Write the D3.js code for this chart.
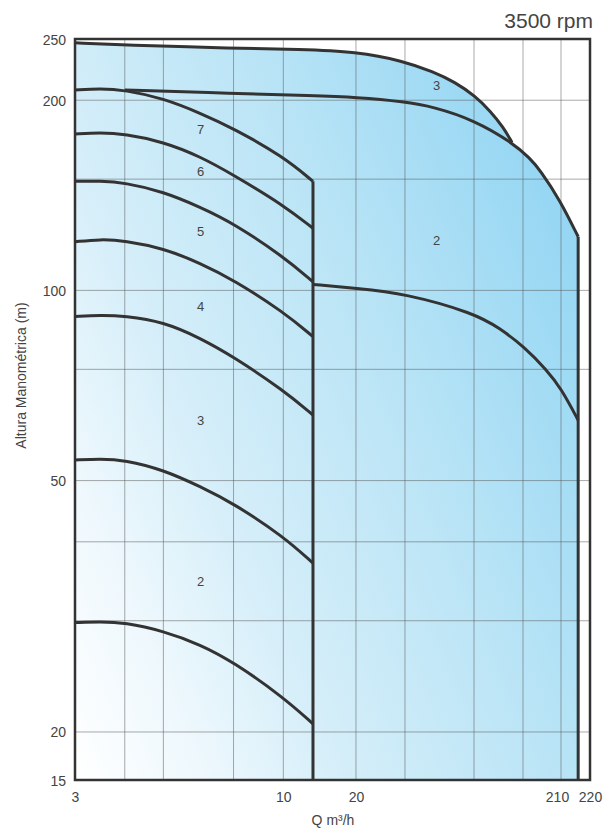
<!DOCTYPE html>
<html><head><meta charset="utf-8">
<script src="https://cdn.jsdelivr.net/npm/d3@7"></script>
<style>
body{margin:0;background:#fff}
text{font-family:"Liberation Sans",Arial,sans-serif;fill:#444}
</style>
</head><body><svg id="c" width="605" height="830"></svg>
<script>
// ---- data ----
const xGrid = [3, 4, 5, 7.5, 10, 15, 20, 30, 40, 50, 60];
const yGrid = [15, 20, 30, 40, 50, 75, 100, 150, 200, 250];
const xTickValues = [3, 10, 15, 50, 60];
const xTickLabels = ["3", "10", "20", "210", "220"];
const yTickValues = [15, 20, 50, 100, 200, 250];
const yTickLabels = ["15", "20", "50", "100", "200", "250"];

// small pump (stages 1..7)
const smallQ = [3, 3.47, 4, 5, 6.2, 7.5, 10, 11.8];
const small1 = [29.8, 29.9, 29.8, 28.9, 27.5, 25.8, 22.7, 20.6];
const small2 = [53.9, 54.1, 53.9, 52.0, 48.9, 46.0, 40.8, 37.0];
const small3 = [90.9, 91.4, 91.1, 89.2, 84.0, 78.5, 69.5, 63.5];
const small4 = [119.4, 120.5, 119.9, 116.6, 110.4, 103.9, 92.5, 84.5];
const small5 = [148.8, 149.0, 148.1, 143.3, 135.4, 127.7, 113.1, 103.2];
const small6 = [176.8, 177.7, 176.8, 171.9, 162.8, 152.3, 136.5, 125.4];
const small7 = [207.6, 208.8, 207.6, 201.4, 190.7, 180.5, 162.8, 148.8];
const smallLabels = ["2", "3", "4", "5", "6", "7"];
const smallLabelQ = 6.2;
const smallLabelH = [34.6, 62.2, 94.2, 123.9, 154.1, 179.8];
const smallMaxQ = 11.8;

// large pump (stages 1..3)
const big1Q = [11.8, 15, 20, 30.1, 34.9, 40.2, 46, 50, 55.7];
const big1H = [102.2, 100.8, 98.9, 92.0, 87.1, 81.5, 74.8, 70.0, 62.3];
const big2Q = [4, 7.5, 11.8, 15, 20, 23.6, 30, 37.5, 41.7, 44.2, 49.7, 55.7];
const big2H = [207.6, 205.0, 203.3, 202.1, 198.9, 195.3, 186.1, 171.5, 161.8, 155.1, 139.0, 121.6];
const big3Q = [3, 4, 7.5, 11, 15, 19.8, 23.6, 26.8, 30.2, 33.0, 35.6, 37.5];
const big3H = [246.6, 244.6, 241.7, 240.8, 238.7, 230.8, 221.8, 213.7, 203.1, 192.3, 181.4, 171.5];
const bigLabels = ["2", "3"];
const bigLabelQ = 24.1;
const bigLabelH = [119.9, 211.4];
const bigMaxQ = 55.7;

const title = "3500 rpm";
const xTitle = "Q m³/h";
const yTitle = "Altura Manométrica (m)";

// ---- layout ----
const svg = d3.select("#c");
const L = 75, R = 590, T = 39, B = 780;
const W = R - L, H = B - T;
const xBreaks = [0, 0.4045, 0.5456, 0.9437, 1];
const yBreaks = [0, 0.0648, 1];

const x = d3.scaleLog().domain(xTickValues).range(xBreaks.map(f => L + f * W));
const y = d3.scaleLog().domain([15, 20, 250]).range(yBreaks.map(f => B - f * H));

const zip = (qs, hs) => qs.map((q, i) => ({q, h: hs[i]}));
const curveType = d3.curveBasis;

// gradient
const defs = svg.append("defs");
const g0 = defs.append("linearGradient").attr("id", "fillG")
  .attr("gradientUnits", "userSpaceOnUse")
  .attr("x1", L).attr("y1", B).attr("x2", L + W * 1.345).attr("y2", B - H * 0.395);
[[0, "#ffffff"], [0.16, "#eef8fd"], [0.33, "#d5eef9"], [0.6, "#b9e4f6"], [0.9, "#95d6f3"], [1, "#8cd2f2"]]
  .forEach(([o, c]) => g0.append("stop").attr("offset", o).attr("stop-color", c));

const area = d3.area().x(d => x(d.q)).y0(y(15)).y1(d => y(d.h)).curve(curveType);
svg.append("path").datum(zip(big3Q, big3H)).attr("d", area).attr("fill", "url(#fillG)");
svg.append("path").datum(zip(big2Q, big2H)).attr("d", area).attr("fill", "url(#fillG)");

// grid
const grid = svg.append("g").attr("stroke", "#555").attr("stroke-opacity", 0.5).attr("stroke-width", 1);
grid.selectAll("line.v").data(xGrid).join("line").attr("class", "v")
  .attr("x1", d => x(d)).attr("x2", d => x(d)).attr("y1", T).attr("y2", B);
grid.selectAll("line.h").data(yGrid).join("line").attr("class", "h")
  .attr("x1", L).attr("x2", R).attr("y1", d => y(d)).attr("y2", d => y(d));

// curves
const line = d3.line().x(d => x(d.q)).y(d => y(d.h)).curve(curveType);
const curves = [small1, small2, small3, small4, small5, small6, small7].map(hs => zip(smallQ, hs))
  .concat([zip(big1Q, big1H), zip(big2Q, big2H), zip(big3Q, big3H)]);
svg.append("g").selectAll("path").data(curves).join("path")
  .attr("d", line).attr("fill", "none").attr("stroke", "#333").attr("stroke-width", 3)
  .attr("stroke-linejoin", "round");

// vertical limits
const vlines = [[smallMaxQ, small7[small7.length - 1]], [bigMaxQ, big2H[big2H.length - 1]]];
svg.append("g").selectAll("line").data(vlines).join("line")
  .attr("x1", d => x(d[0])).attr("x2", d => x(d[0]))
  .attr("y1", d => y(d[1])).attr("y2", y(15))
  .attr("stroke", "#333").attr("stroke-width", 3);

// frame
svg.append("rect").attr("x", L).attr("y", T).attr("width", W).attr("height", H)
  .attr("fill", "none").attr("stroke", "#333").attr("stroke-width", 2.5);

// curve labels
svg.append("g").selectAll("text").data(smallLabels).join("text")
  .attr("x", x(smallLabelQ)).attr("y", (d, i) => y(smallLabelH[i]))
  .attr("text-anchor", "middle").attr("dominant-baseline", "central")
  .attr("font-size", 13).text(d => d);
svg.append("g").selectAll("text").data(bigLabels).join("text")
  .attr("x", x(bigLabelQ)).attr("y", (d, i) => y(bigLabelH[i]))
  .attr("text-anchor", "middle").attr("dominant-baseline", "central")
  .attr("font-size", 13).text(d => d);

// axes
const xAxis = d3.axisBottom(x).tickValues(xTickValues).tickFormat((d, i) => xTickLabels[i]).tickSize(0).tickPadding(0);
const xg = svg.append("g").attr("transform", `translate(0,${B})`).call(xAxis);
xg.select(".domain").remove();
xg.selectAll("text").attr("font-size", 14).attr("fill", "#444").attr("dy", null)
  .attr("y", 17).attr("dominant-baseline", "central")
  .attr("font-family", "Liberation Sans, Arial, sans-serif")
  .attr("dx", (d, i) => i === 3 ? -4 : 0);

const yAxis = d3.axisLeft(y).tickValues(yTickValues).tickFormat((d, i) => yTickLabels[i]).tickSize(0).tickPadding(0);
const yg = svg.append("g").attr("transform", `translate(${L - 9},0)`).call(yAxis);
yg.select(".domain").remove();
yg.selectAll("text").attr("font-size", 14).attr("fill", "#444").attr("dy", null)
  .attr("dominant-baseline", "central")
  .attr("font-family", "Liberation Sans, Arial, sans-serif");

// titles
svg.append("text").attr("x", 593).attr("y", 28).attr("text-anchor", "end")
  .attr("font-size", 21).attr("fill", "#333").text(title);
svg.append("text").attr("x", (L + R) / 2 + 0.5).attr("y", 825).attr("text-anchor", "middle")
  .attr("font-size", 14).text(xTitle);
svg.append("text").attr("transform", `translate(26,${(T + B) / 2 - 34}) rotate(-90)`)
  .attr("text-anchor", "middle").attr("font-size", 14).text(yTitle);
</script>
</body></html>
